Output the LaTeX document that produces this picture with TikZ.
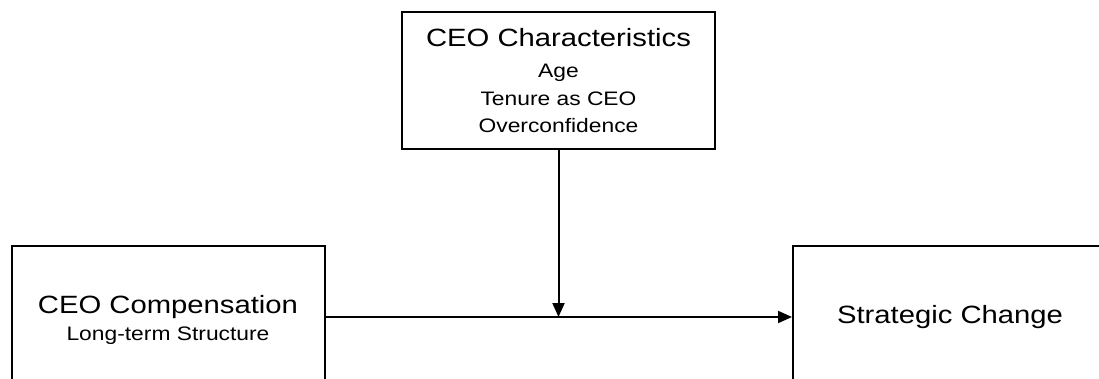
\documentclass[tikz,border=0pt]{standalone}
\usepackage{fontspec}
\usepackage{tikz}
\usetikzlibrary{arrows.meta}
\newfontfamily\diagfont[FakeStretch=1.17]{Liberation Sans}
\newcommand{\headsz}{\fontsize{25}{30}\selectfont}
\newcommand{\subsz}{\fontsize{19.5}{27.5}\selectfont}

\begin{document}
\begin{tikzpicture}[x=1pt,y=1pt,>={Triangle[length=14pt,width=12pt]},line cap=butt,
  varbox/.style={draw,line width=2pt,align=center,inner sep=0pt,
    minimum width=313pt,font=\diagfont\subsz}]
\useasboundingbox (0,0) rectangle (1099,-379);
\node[varbox,minimum height=137pt] (chars) at (558.5,-80.5)
  {{\headsz CEO Characteristics}\\[4pt]Age\\Tenure as CEO\\Overconfidence};
\node[varbox,minimum height=148pt] (comp) at (168,-320)
  {{\headsz CEO Compensation}\\Long-term Structure};
\node[varbox,minimum width=314pt,minimum height=142pt,font=\diagfont\headsz] (change) at (950,-317)
  {Strategic Change};
\coordinate (meet) at (chars.south |- change.west);
\draw[->,line width=2pt] (comp.east |- change.west) -- (change.west);
\draw[->,line width=2pt] (chars.south) -- (meet);
\end{tikzpicture}
\end{document}
